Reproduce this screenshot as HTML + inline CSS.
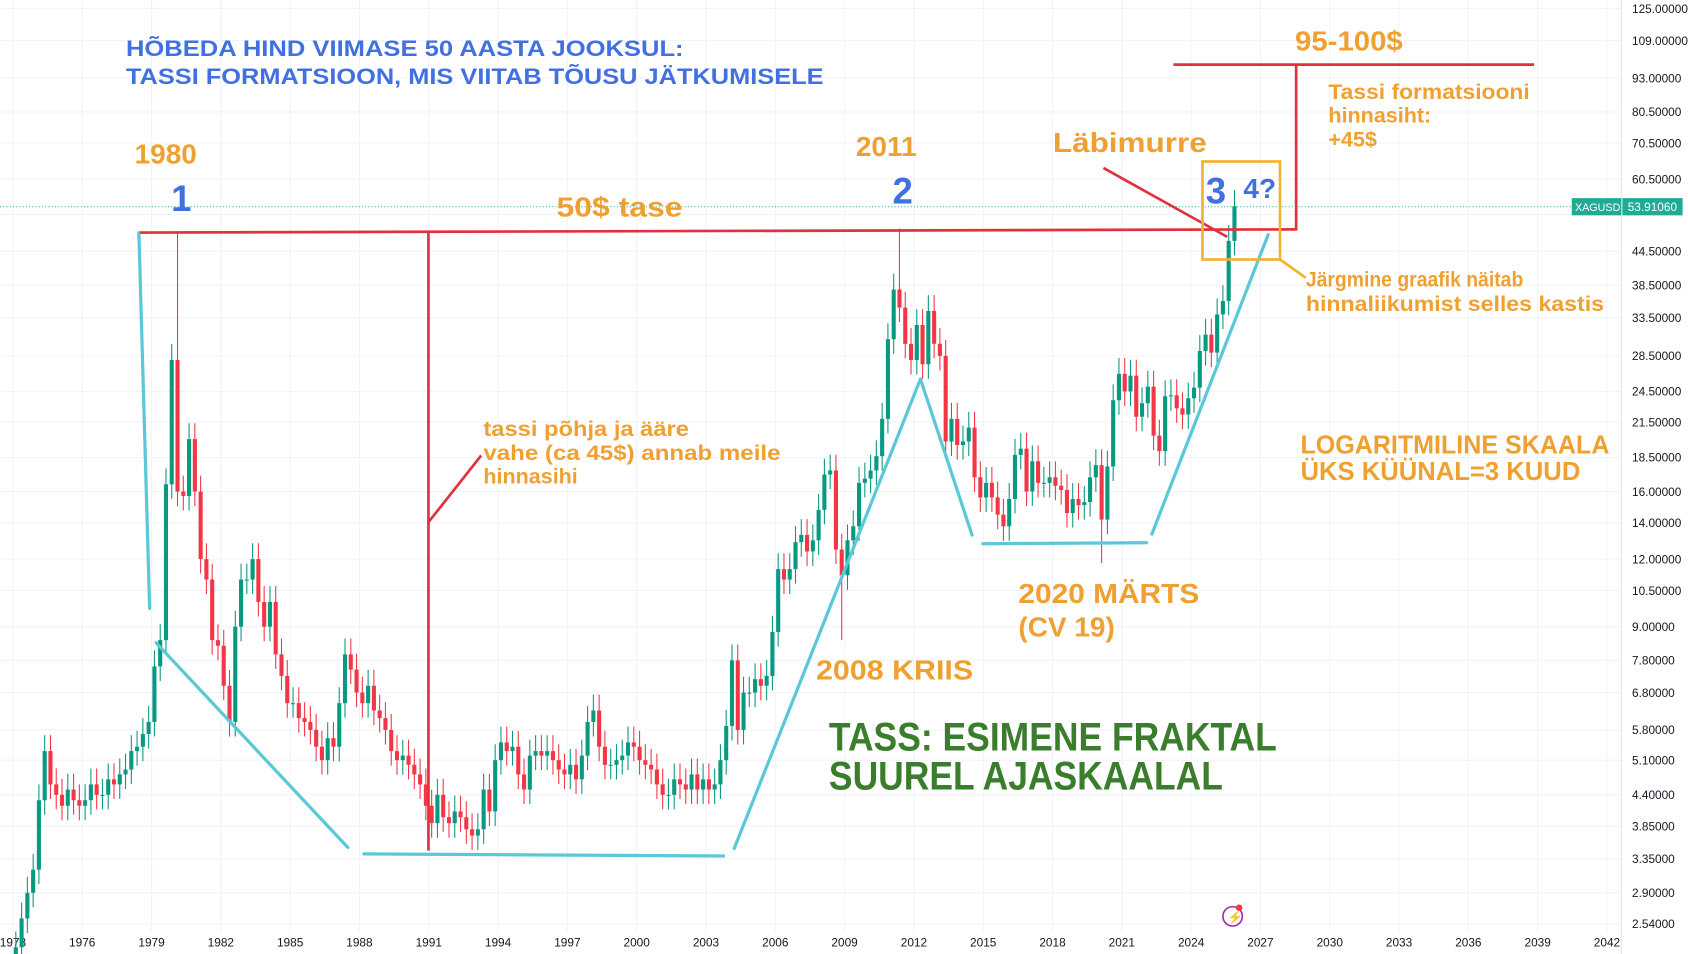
<!DOCTYPE html>
<html><head><meta charset="utf-8"><style>
html,body{margin:0;padding:0;background:#fff;overflow:hidden}
svg{display:block}
text{font-family:"Liberation Sans",sans-serif;font-weight:bold}
</style></head><body>
<svg id="s" width="1688" height="954" viewBox="0 0 1568 886" preserveAspectRatio="none" xmlns="http://www.w3.org/2000/svg">
<rect width="1568" height="886" fill="#fff"/>
<g id="grid" stroke="#f0f3fa" stroke-width="1"></g>
<g id="axis" font-size="11" fill="#131722"></g>
<g id="candles"></g>
<line x1="0" y1="192" x2="1460" y2="192" stroke="#22ab94" stroke-width="1" stroke-dasharray="1,2"/>
<rect x="1460" y="184" width="46" height="16" fill="#22ab94"/>
<rect x="1507" y="184" width="56" height="16" fill="#22ab94"/>
<text x="1463" y="196" font-size="10" fill="#fff" style="font-weight:normal">XAGUSD</text>
<text x="1512" y="196" font-size="11" fill="#fff" style="font-weight:normal">53.91060</text>
<!-- cyan lines -->
<g stroke="#5bc8d8" stroke-width="3" fill="none" stroke-linecap="round">
<line x1="129" y1="216" x2="139" y2="565"/>
<line x1="145" y1="597" x2="323" y2="787"/>
<line x1="338" y1="793" x2="672" y2="795"/>
<line x1="682" y1="788" x2="855" y2="352"/>
<line x1="855" y1="352" x2="903" y2="497"/>
<line x1="913" y1="505" x2="1065" y2="504"/>
<line x1="1070" y1="496" x2="1178" y2="218"/>
</g>
<!-- red lines -->
<g stroke="#e0323c" stroke-width="2.5" fill="none">
<line x1="130" y1="216" x2="1205" y2="213"/>
<line x1="398" y1="216" x2="398" y2="790"/>
<line x1="398" y1="485" x2="447" y2="423"/>
<line x1="1090" y1="60" x2="1425" y2="60"/>
<line x1="1204" y1="60" x2="1204" y2="214"/>
<line x1="1025" y1="156" x2="1140" y2="220"/>
</g>
<rect x="1117" y="150" width="72" height="91" fill="none" stroke="#f2b233" stroke-width="2.5"/>
<line x1="1189" y1="241" x2="1213" y2="258" stroke="#f2b233" stroke-width="2.5"/>
<!-- texts -->
<g fill="#4170e0" font-size="21">
<text x="117" y="52" textLength="518" lengthAdjust="spacingAndGlyphs">HÕBEDA HIND VIIMASE 50 AASTA JOOKSUL:</text>
<text x="117" y="78" textLength="648" lengthAdjust="spacingAndGlyphs">TASSI FORMATSIOON, MIS VIITAB TÕUSU JÄTKUMISELE</text>
</g>
<g fill="#4170e0" font-size="34">
<text x="159" y="196">1</text>
<text x="829" y="189">2</text>
<text x="1120" y="189">3</text>
<text x="1155" y="184" font-size="26">4?</text>
</g>
<g fill="#f0a030" font-size="26">
<text x="125" y="152">1980</text>
<text x="517" y="201" textLength="117" lengthAdjust="spacingAndGlyphs">50$ tase</text>
<text x="795" y="145">2011</text>
<text x="978" y="141" textLength="143" lengthAdjust="spacingAndGlyphs">Läbimurre</text>
<text x="1203" y="47" textLength="100" lengthAdjust="spacingAndGlyphs">95-100$</text>
<text x="946" y="560" textLength="168" lengthAdjust="spacingAndGlyphs">2020 MÄRTS</text>
<text x="946" y="591">(CV 19)</text>
<text x="758" y="631" textLength="146" lengthAdjust="spacingAndGlyphs">2008 KRIIS</text>
</g>
<g fill="#f0a030" font-size="20">
<text x="1234" y="92" textLength="187" lengthAdjust="spacingAndGlyphs">Tassi formatsiooni</text>
<text x="1234" y="114">hinnasiht:</text>
<text x="1234" y="136">+45$</text>
<text x="1213" y="266" textLength="202" lengthAdjust="spacingAndGlyphs">Järgmine graafik näitab</text>
<text x="1213" y="289" textLength="277" lengthAdjust="spacingAndGlyphs">hinnaliikumist selles kastis</text>
<text x="449" y="405" textLength="191" lengthAdjust="spacingAndGlyphs">tassi põhja ja ääre</text>
<text x="449" y="427" textLength="276" lengthAdjust="spacingAndGlyphs">vahe (ca 45$) annab meile</text>
<text x="449" y="449">hinnasihi</text>
</g>
<g fill="#f0a030" font-size="24">
<text x="1208" y="421" textLength="287" lengthAdjust="spacingAndGlyphs">LOGARITMILINE SKAALA</text>
<text x="1208" y="446" textLength="260" lengthAdjust="spacingAndGlyphs">ÜKS KÜÜNAL=3 KUUD</text>
</g>
<g fill="#3a7d2c" font-size="37">
<text x="770" y="697" textLength="416" lengthAdjust="spacingAndGlyphs">TASS: ESIMENE FRAKTAL</text>
<text x="770" y="733" textLength="366" lengthAdjust="spacingAndGlyphs">SUUREL AJASKAALAL</text>
</g>
<circle cx="1145" cy="851" r="9" fill="none" stroke="#9c27b0" stroke-width="1.5"/>
<text x="1140" y="856" font-size="12" fill="#9c27b0">⚡</text>
<circle cx="1151" cy="843" r="3" fill="#f23645"/>
</svg>
<script>
var NS="http://www.w3.org/2000/svg";
function Y(p){return 8+218.2*(4.828-Math.log(p));}
function X(y){return 12+21.46*(y-1973);}
function el(n,a,parent){var e=document.createElementNS(NS,n);for(var k in a)e.setAttribute(k,a[k]);parent.appendChild(e);return e;}
var g=document.getElementById('grid'),ax=document.getElementById('axis'),cd=document.getElementById('candles');
var prices=[125,109,93,80.5,70.5,60.5,52,44.5,38.5,33.5,28.5,24.5,21.5,18.5,16,14,12,10.5,9,7.8,6.8,5.8,5.1,4.4,3.85,3.35,2.9,2.54];
prices.forEach(function(p){var y=Y(p);el('line',{x1:0,x2:1506,y1:y,y2:y},g);
 if(p!==52){var t=el('text',{x:1516,y:y+4,style:'font-weight:normal'},ax);t.textContent=p.toFixed(5);}});
for(var yr=1973;yr<=2042;yr+=3){var x=X(yr);el('line',{x1:x,x2:x,y1:0,y2:866},g);
 var t=el('text',{x:x,y:879,'text-anchor':'middle',style:'font-weight:normal'},ax);t.textContent=yr;}
el('line',{x1:1506,x2:1506,y1:0,y2:886,stroke:'#e0e3eb'},g);
var c=[2.3,2.6,2.9,3.2, 4.3,5.3,4.6,4.4, 4.2,4.5,4.3,4.2, 4.3,4.6,4.4,4.4, 4.7,4.6,4.8,4.9, 5.3,5.4,5.7,6.0, 7.6,8.5,16.5,28, 16,15.7,20,16, 12,11,8.5,8.3, 7,6.0,9,11, 11,12,10,9, 10,8,7.3,6.5, 6.5,6.1,6.0,5.8, 5.4,5.1,5.6,5.4, 6.5,8,7.5,6.8, 6.5,7,6.3,6.1, 5.8,5.3,5.1,5.2, 5,4.8,4.6,4.2, 3.9,4.4,4,3.9, 4.1,4,3.8,3.7, 3.8,4.5,4.1,5.1, 5.5,5.3,5.4,4.8, 4.5,5.2,5.3,5.2, 5.3,5.1,4.9,4.8, 5,4.7,5.2,6, 6.3,5.4,5,5, 5.1,5.2,5.5,5.4, 5.1,5,4.9,4.6, 4.4,4.4,4.7,4.6, 4.5,4.8,4.5,4.7, 4.5,4.6,5.1,5.9, 7.8,5.8,6.8,6.8, 7.2,7,7.3,8.8, 11.5,11,11.5,12.9, 13.3,12.4,13,14.8, 17.2,17.5,12.5,11.2, 13,13.8,16.6,16.9, 17.5,18.6,21.8,30.6, 37.8,35,30,28, 32.5,27.5,34.5,30, 28.5,19.8,21.8,19.5, 19.8,21,17,15.6, 16.6,15.6,14.5,13.8, 15.5,18.7,19.2,16, 18.2,16.6,16.6,17, 16.4,16.1,14.6,15.5, 15.1,15.3,17,17.9, 14.2,17.8,23.6,26.4, 24.5,26.2,22,23.3, 25,20.3,19,24, 24.1,22.8,22.2,23.8, 24.9,29.1,31.2,28.9, 34,36,46.5,53.9];
var prev=2.1;
c.forEach(function(cl,i){var yr=1973+i/4+0.125,x=X(yr),o=prev;
 var hi=Math.max(o,cl)*1.07,lo=Math.min(o,cl)*0.94;
 if(i==28)hi=48;if(i==153)hi=49;if(i==188)lo=11.8;if(i==143)lo=8.5;
 var col=cl>=o?'#089981':'#f23645';
 el('line',{x1:x,x2:x,y1:Y(hi),y2:Y(lo),stroke:col,'stroke-width':1},cd);
 var y1=Y(Math.max(o,cl)),y2=Y(Math.min(o,cl));
 el('rect',{x:x-1.9,y:y1,width:3.8,height:Math.max(1,y2-y1),fill:col},cd);
 prev=cl;});
</script>
</body></html>
